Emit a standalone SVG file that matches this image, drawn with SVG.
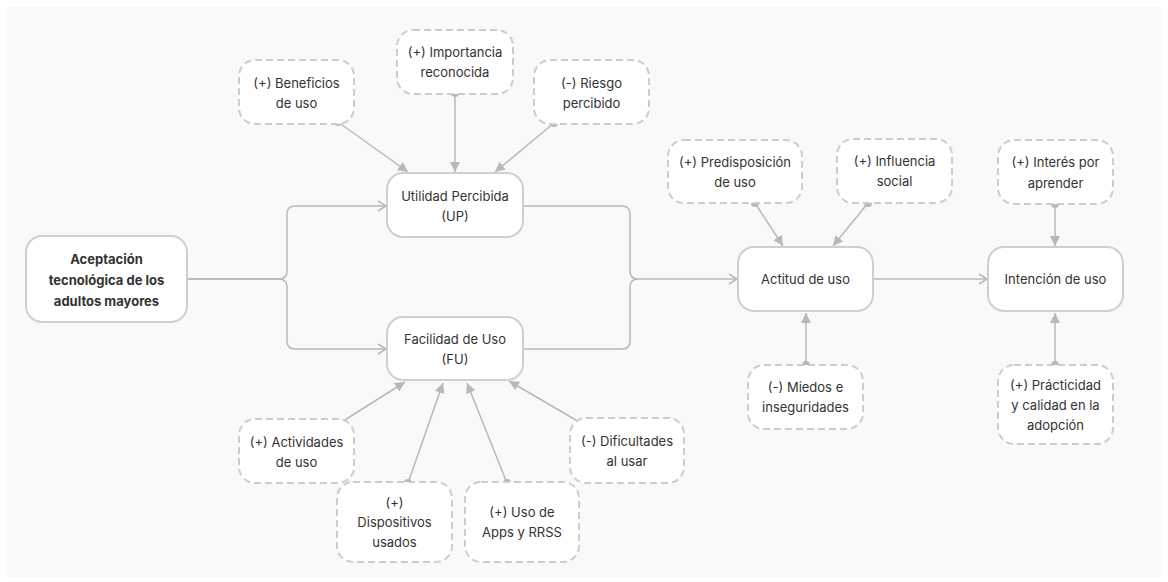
<svg xmlns="http://www.w3.org/2000/svg" width="1168" height="582" viewBox="0 0 1168 582">
  <defs>
    <style>
      .bg { fill: #f9f9f9; }
      .node rect { fill: #ffffff; stroke: #cfcfcf; stroke-width: 2; }
      .node.dash rect { stroke: #cdcdcd; stroke-dasharray: 7 4; }
      .node text { font-family: Inter, "Liberation Sans", sans-serif; font-size: 13px; fill: #333333; text-anchor: middle; dominant-baseline: central; }
      .node.main text { font-weight: 700; }
      .flow { fill: none; stroke: #b8b8b8; stroke-width: 1.5; }
      .infl { fill: none; stroke: #b8b8b8; stroke-width: 1.5; }
      .dot { fill: #b8b8b8; }
    </style>
    <marker id="chev" viewBox="0 0 10 12" refX="9" refY="6" markerWidth="10" markerHeight="12" markerUnits="userSpaceOnUse" orient="auto">
      <path d="M1,1 L9,6 L1,11" fill="none" stroke="#b8b8b8" stroke-width="1.5"/>
    </marker>
    <marker id="tri" viewBox="0 0 10 10" refX="10" refY="5" markerWidth="10" markerHeight="10" markerUnits="userSpaceOnUse" orient="auto">
      <path d="M0,0 L10,5 L0,10 Z" fill="#b8b8b8"/>
    </marker>
  </defs>

  <rect class="bg" x="6" y="7" width="1156" height="570"/>

  <g id="connectors">
    <path class="flow" marker-end="url(#chev)" d="M187,279 H279 Q287,279 287,271 V214 Q287,206 295,206 H386"/>
    <path class="flow" marker-end="url(#chev)" d="M187,279 H279 Q287,279 287,287 V341 Q287,349 295,349 H386"/>
    <path class="flow" marker-end="url(#chev)" d="M523,206 H622 Q630,206 630,214 V271 Q630,279 638,279 H737"/>
    <path class="flow" d="M523,349 H622 Q630,349 630,341 V287 Q630,279 638,279"/>
    <path class="flow" marker-end="url(#chev)" d="M873,279 H987"/>

    <path class="infl" marker-end="url(#tri)" d="M338,122 L408,172"/>
    <circle class="dot" cx="338" cy="122" r="4"/>
    <path class="infl" marker-end="url(#tri)" d="M455,93 L455,172"/>
    <circle class="dot" cx="455" cy="93" r="4"/>
    <path class="infl" marker-end="url(#tri)" d="M554,123 L495,172"/>
    <circle class="dot" cx="554" cy="123" r="4"/>

    <path class="infl" marker-end="url(#tri)" d="M755,203 L783,246"/>
    <circle class="dot" cx="755" cy="203" r="4"/>
    <path class="infl" marker-end="url(#tri)" d="M868,203 L833,246"/>
    <circle class="dot" cx="868" cy="203" r="4"/>
    <path class="infl" marker-end="url(#tri)" d="M1055,204 L1055,246"/>
    <circle class="dot" cx="1055" cy="204" r="4"/>
    <path class="infl" marker-end="url(#tri)" d="M806,365 L806,313"/>
    <circle class="dot" cx="806" cy="365" r="4"/>
    <path class="infl" marker-end="url(#tri)" d="M1055,365 L1055,313"/>
    <circle class="dot" cx="1055" cy="365" r="4"/>

    <path class="infl" marker-end="url(#tri)" d="M340,423 L405,382"/>
    <circle class="dot" cx="340" cy="423" r="4"/>
    <path class="infl" marker-end="url(#tri)" d="M408,483 L443,383"/>
    <circle class="dot" cx="408" cy="483" r="4"/>
    <path class="infl" marker-end="url(#tri)" d="M507,483 L467,383"/>
    <circle class="dot" cx="507" cy="483" r="4"/>
    <path class="infl" marker-end="url(#tri)" d="M581,423 L509,381"/>
    <circle class="dot" cx="581" cy="423" r="4"/>
  </g>

  <g id="n-aceptacion" class="node main">
    <rect x="26" y="236" width="161" height="86" rx="16"/>
    <text x="106.5" y="259">Aceptación</text>
    <text x="106.5" y="280">tecnológica de los</text>
    <text x="106.5" y="301">adultos mayores</text>
  </g>

  <g id="n-up" class="node">
    <rect x="387" y="173" width="136" height="64" rx="16"/>
    <text x="455" y="196">Utilidad Percibida</text>
    <text x="455" y="216">(UP)</text>
  </g>

  <g id="n-fu" class="node">
    <rect x="387" y="317" width="136" height="63" rx="16"/>
    <text x="455" y="339">Facilidad de Uso</text>
    <text x="455" y="359">(FU)</text>
  </g>

  <g id="n-actitud" class="node">
    <rect x="738" y="247" width="135" height="64" rx="16"/>
    <text x="805.5" y="279">Actitud de uso</text>
  </g>

  <g id="n-intencion" class="node">
    <rect x="988" y="247" width="135" height="64" rx="16"/>
    <text x="1055.5" y="279">Intención de uso</text>
  </g>

  <g id="n-beneficios" class="node dash">
    <rect x="239" y="60" width="115" height="64" rx="16"/>
    <text x="296.5" y="83">(+) Beneficios</text>
    <text x="296.5" y="103">de uso</text>
  </g>

  <g id="n-importancia" class="node dash">
    <rect x="397" y="30" width="116" height="64" rx="16"/>
    <text x="455" y="52">(+) Importancia</text>
    <text x="455" y="72">reconocida</text>
  </g>

  <g id="n-riesgo" class="node dash">
    <rect x="534" y="60" width="115" height="64" rx="16"/>
    <text x="591.5" y="83">(-) Riesgo</text>
    <text x="591.5" y="103">percibido</text>
  </g>

  <g id="n-predisposicion" class="node dash">
    <rect x="668" y="140" width="134" height="63" rx="16"/>
    <text x="735" y="162">(+) Predisposición</text>
    <text x="735" y="182">de uso</text>
  </g>

  <g id="n-influencia" class="node dash">
    <rect x="837" y="139" width="115" height="64" rx="16"/>
    <text x="894.5" y="161">(+) Influencia</text>
    <text x="894.5" y="181">social</text>
  </g>

  <g id="n-interes" class="node dash">
    <rect x="998" y="140" width="115" height="64" rx="16"/>
    <text x="1055.5" y="162">(+) Interés por</text>
    <text x="1055.5" y="183">aprender</text>
  </g>

  <g id="n-miedos" class="node dash">
    <rect x="748" y="365" width="115" height="64" rx="16"/>
    <text x="805.5" y="387">(-) Miedos e</text>
    <text x="805.5" y="407">inseguridades</text>
  </g>

  <g id="n-practicidad" class="node dash">
    <rect x="998" y="365" width="115" height="79" rx="16"/>
    <text x="1055.5" y="385">(+) Prácticidad</text>
    <text x="1055.5" y="405">y calidad en la</text>
    <text x="1055.5" y="425">adopción</text>
  </g>

  <g id="n-actividades" class="node dash">
    <rect x="239" y="419" width="115" height="64" rx="16"/>
    <text x="296.5" y="442">(+) Actividades</text>
    <text x="296.5" y="462">de uso</text>
  </g>

  <g id="n-dispositivos" class="node dash">
    <rect x="337" y="482" width="115" height="80" rx="16"/>
    <text x="394.5" y="502">(+)</text>
    <text x="394.5" y="522">Dispositivos</text>
    <text x="394.5" y="542">usados</text>
  </g>

  <g id="n-apps" class="node dash">
    <rect x="465" y="482" width="114" height="80" rx="16"/>
    <text x="522" y="512">(+) Uso de</text>
    <text x="522" y="532">Apps y RRSS</text>
  </g>

  <g id="n-dificultades" class="node dash">
    <rect x="570" y="418" width="114" height="65" rx="16"/>
    <text x="627" y="441">(-) Dificultades</text>
    <text x="627" y="461">al usar</text>
  </g>
</svg>
